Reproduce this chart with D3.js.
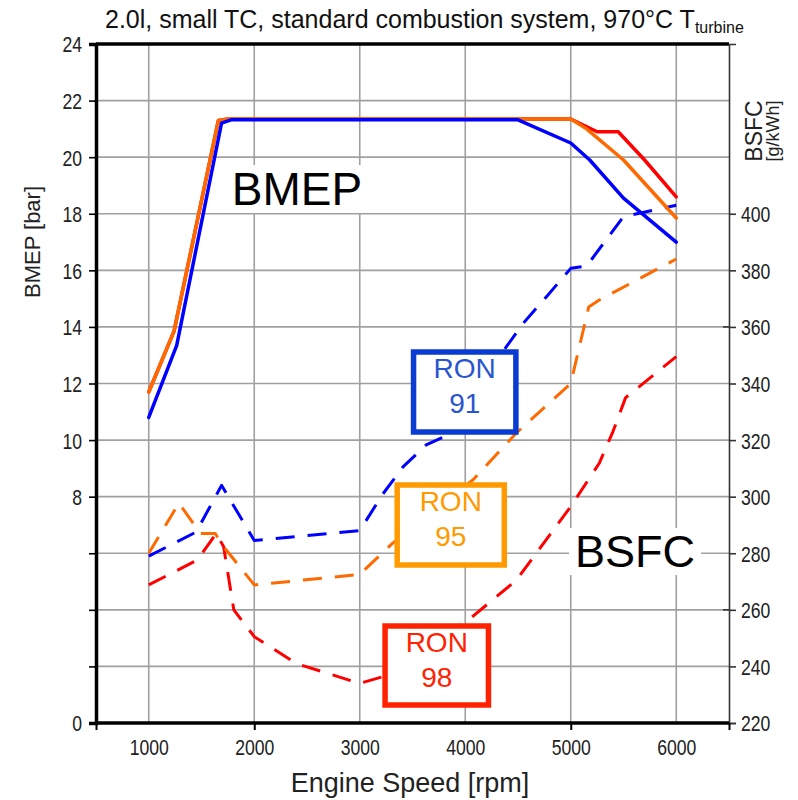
<!DOCTYPE html>
<html>
<head>
<meta charset="utf-8">
<script src="https://cdn.jsdelivr.net/npm/d3@7"></script>
<style>
  html, body { margin: 0; padding: 0; background: #fff; }
  svg { display: block; }
  text { font-family: "Liberation Sans", Arial, sans-serif; }
</style>
</head>
<body>
<svg id="chart" width="798" height="800"></svg>
<script>
// Engine speed axis
const speedTicks = [1000, 2000, 3000, 4000, 5000, 6000];
const speedMajorMarks = [500, 2000, 5000, 6500];

// BMEP axis (left) and BSFC axis (right)
const bmepGrid = [2, 4, 6, 8, 10, 12, 14, 16, 18, 20, 22];
const bmepTicks = [0, 2, 4, 6, 8, 10, 12, 14, 16, 18, 20, 22, 24];
const bmepLabels = [0, 8, 10, 12, 14, 16, 18, 20, 22, 24];
const bsfcTicks = [220, 240, 260, 280, 300, 320, 340, 360, 380, 400];
const bsfcInnerMarks = [260, 360];

// Full-load BMEP [bar] vs engine speed [rpm]
const bmepRON98 = [[1000, 11.7], [1240, 13.85], [1660, 21.3], [1750, 21.35], [5000, 21.35], [5250, 20.9], [5450, 20.9], [5700, 19.9], [6000, 18.6]];
const bmepRON95 = [[1000, 11.7], [1240, 13.85], [1660, 21.3], [1750, 21.35], [5000, 21.35], [5150, 21.0], [5500, 19.9], [6000, 17.85]];
const bmepRON91 = [[1000, 10.8], [1265, 13.35], [1690, 21.2], [1780, 21.32], [4500, 21.32], [5000, 20.5], [5180, 19.9], [5500, 18.55], [6000, 17.0]];

// Full-load BSFC [g/kWh] vs engine speed [rpm]
const bsfcRON91 = [[1000, 279], [1450, 287.5], [1690, 304], [2000, 284.5], [3000, 288], [3220, 301], [3410, 310.5], [3630, 318.3], [3800, 321.2], [4390, 353], [4550, 361.3], [4770, 370.7], [5000, 380.7], [5150, 381.5], [5500, 399], [6000, 403]];
const bsfcRON95 = [[1000, 280], [1286, 297.7], [1490, 287], [1630, 287], [1710, 282.3], [2000, 268.8], [3000, 272.5], [3310, 283.5], [4075, 306], [4485, 322.5], [5000, 340], [5170, 367], [5270, 369.5], [6000, 384]];
const bsfcRON98 = [[1000, 268.8], [1460, 277.6], [1640, 287], [1710, 282.3], [1806, 260], [2000, 250.5], [2400, 241], [3000, 234], [3220, 236.4], [4030, 256.4], [4485, 270.5], [5000, 296.5], [5270, 311.8], [5400, 323], [5520, 335], [6000, 349.5]];

const svg = d3.select("#chart");
const L = 96, R = 729, T = 44, B = 723;
const NARROW = 0.8;   // horizontal squeeze for the condensed tick lettering

const x = d3.scaleLinear().domain([500, 6500]).range([L, R]);
const yBmep = d3.scaleLinear().domain([0, 24]).range([B, T]);
const yBsfc = d3.scaleLinear().domain([220, 460]).range([B, T]);

const gridColor = "#a0a0a0";

// grid
const grid = svg.append("g");
grid.selectAll("line.v").data(speedTicks).join("line")
  .attr("x1", d => x(d)).attr("x2", d => x(d))
  .attr("y1", T).attr("y2", B)
  .attr("stroke", gridColor).attr("stroke-width", 1.6);
grid.selectAll("line.h").data(bmepGrid).join("line")
  .attr("x1", L).attr("x2", R)
  .attr("y1", d => yBmep(d)).attr("y2", d => yBmep(d))
  .attr("stroke", gridColor).attr("stroke-width", 1.6);

// big section labels with white backing
function bigLabel(text, cx, baseline, size) {
  const g = svg.append("g");
  const t = g.append("text")
    .attr("x", cx).attr("y", baseline)
    .attr("text-anchor", "middle")
    .attr("font-size", size).attr("fill", "#000").text(text);
  const bb = t.node().getBBox();
  g.insert("rect", "text")
    .attr("x", bb.x - 6).attr("y", bb.y + 2)
    .attr("width", bb.width + 12).attr("height", bb.height - 4)
    .attr("fill", "#fff");
}
bigLabel("BMEP", 297, 205, 46);
bigLabel("BSFC", 635, 567, 45);

// curves
const lineBmep = d3.line().x(d => x(d[0])).y(d => yBmep(d[1]));
const lineBsfc = d3.line().x(d => x(d[0])).y(d => yBsfc(d[1]));

const dashed = [
  { data: bsfcRON98, color: "#ff0000" },
  { data: bsfcRON95, color: "#ff6a00" },
  { data: bsfcRON91, color: "#0000ff" }
];
dashed.forEach(s => {
  svg.append("path").datum(s.data)
    .attr("d", lineBsfc)
    .attr("fill", "none")
    .attr("stroke", s.color)
    .attr("stroke-width", 3)
    .attr("stroke-dasharray", "19,13")
    .attr("stroke-linejoin", "round");
});

const solid = [
  { data: bmepRON98, color: "#ff0000" },
  { data: bmepRON95, color: "#ff6a00" },
  { data: bmepRON91, color: "#0000ff" }
];
solid.forEach(s => {
  svg.append("path").datum(s.data)
    .attr("d", lineBmep)
    .attr("fill", "none")
    .attr("stroke", s.color)
    .attr("stroke-width", 3.5)
    .attr("stroke-linejoin", "round")
    .attr("stroke-linecap", "round");
});

// fuel grade boxes
const boxes = [
  { rpm0: 3510, rpm1: 4480, top: 352, bot: 432, stroke: "#0a3cd2", text: "#2a55d0", num: "91" },
  { rpm0: 3355, rpm1: 4370, top: 485, bot: 565, stroke: "#ff9a00", text: "#ff9a00", num: "95" },
  { rpm0: 3240, rpm1: 4220, top: 626, bot: 705, stroke: "#ff2200", text: "#ff2200", num: "98" }
];
boxes.forEach(b => {
  const x0 = x(b.rpm0), x1 = x(b.rpm1);
  svg.append("rect")
    .attr("x", x0).attr("y", b.top)
    .attr("width", x1 - x0).attr("height", b.bot - b.top)
    .attr("fill", "#fff").attr("stroke", b.stroke).attr("stroke-width", 5.5);
  const cx = (x0 + x1) / 2;
  svg.append("text")
    .attr("x", cx).attr("y", b.top + 26)
    .attr("text-anchor", "middle").attr("font-size", 28)
    .attr("fill", b.text).text("RON");
  svg.append("text")
    .attr("x", cx).attr("y", b.top + 61)
    .attr("text-anchor", "middle").attr("font-size", 28)
    .attr("fill", b.text).text(b.num);
});

// frame
svg.append("line").attr("x1", L).attr("x2", R).attr("y1", T).attr("y2", T)
  .attr("stroke", "#000").attr("stroke-width", 3.5);

// left axis
const leftAxis = d3.axisLeft(yBmep).tickValues(bmepTicks).tickSize(7)
  .tickFormat(d => bmepLabels.includes(d) ? d : "");
const gl = svg.append("g").attr("transform", `translate(${L},0)`).call(leftAxis);
gl.select(".domain").attr("stroke-width", 3.5);
gl.selectAll(".tick line").attr("stroke-width", 1.6);
gl.selectAll(".tick text")
  .attr("x", -14 / NARROW).attr("dy", "0.36em")
  .attr("transform", `scale(${NARROW},1)`)
  .attr("font-size", 22).attr("fill", "#222")
  .style("font-family", "Liberation Sans, Arial, sans-serif");

// right axis
const rightAxis = d3.axisRight(yBsfc).tickValues(bsfcTicks).tickSize(7);
const gr = svg.append("g").attr("transform", `translate(${R},0)`).call(rightAxis);
gr.select(".domain").attr("stroke", "#333").attr("stroke-width", 1.6);
gr.selectAll(".tick line").attr("stroke", "#333").attr("stroke-width", 1.6);
gr.selectAll(".tick text")
  .attr("x", 12 / NARROW).attr("dy", "0.36em")
  .attr("transform", `scale(${NARROW},1)`)
  .attr("font-size", 22).attr("fill", "#222")
  .style("font-family", "Liberation Sans, Arial, sans-serif");
gr.selectAll("line.inner").data(bsfcInnerMarks).join("line")
  .attr("x1", -6).attr("x2", 0)
  .attr("y1", d => yBsfc(d)).attr("y2", d => yBsfc(d))
  .attr("stroke", "#333").attr("stroke-width", 1.6);

// bottom axis: labels and marks
const bottomLabels = d3.axisBottom(x).tickValues(speedTicks).tickSize(0).tickFormat(d3.format("d"));
const gb = svg.append("g").attr("transform", `translate(0,${B})`).call(bottomLabels);
gb.select(".domain").remove();
gb.selectAll(".tick text")
  .attr("y", 32).attr("dy", null)
  .attr("transform", `scale(${NARROW},1)`)
  .attr("font-size", 22).attr("fill", "#222")
  .style("font-family", "Liberation Sans, Arial, sans-serif");
const bottomMarks = d3.axisBottom(x).tickValues(speedMajorMarks).tickSize(7).tickFormat("");
const gm = svg.append("g").attr("transform", `translate(0,${B})`).call(bottomMarks);
gm.select(".domain").attr("stroke-width", 3.5).attr("d", `M${L},0H${R}`);
gm.selectAll(".tick line").attr("stroke-width", 2);

// titles
const title = svg.append("text")
  .attr("x", 105).attr("y", 28).attr("font-size", 25).attr("fill", "#111");
title.append("tspan").text("2.0l, small TC, standard combustion system, 970°C T");
title.append("tspan").attr("font-size", 16).attr("dy", 5).text("turbine");

svg.append("text")
  .attr("x", 410).attr("y", 792).attr("text-anchor", "middle")
  .attr("font-size", 27).attr("fill", "#222").text("Engine Speed [rpm]");

svg.append("text")
  .attr("transform", "translate(40,242) rotate(-90)")
  .attr("text-anchor", "middle").attr("font-size", 22).attr("fill", "#222")
  .text("BMEP [bar]");

svg.append("text")
  .attr("transform", "translate(762,131) rotate(-90)")
  .attr("text-anchor", "middle").attr("font-size", 23).attr("fill", "#222")
  .text("BSFC");
svg.append("text")
  .attr("transform", "translate(779,131) rotate(-90)")
  .attr("text-anchor", "middle").attr("font-size", 18).attr("fill", "#222")
  .text("[g/kWh]");
</script>
</body>
</html>
